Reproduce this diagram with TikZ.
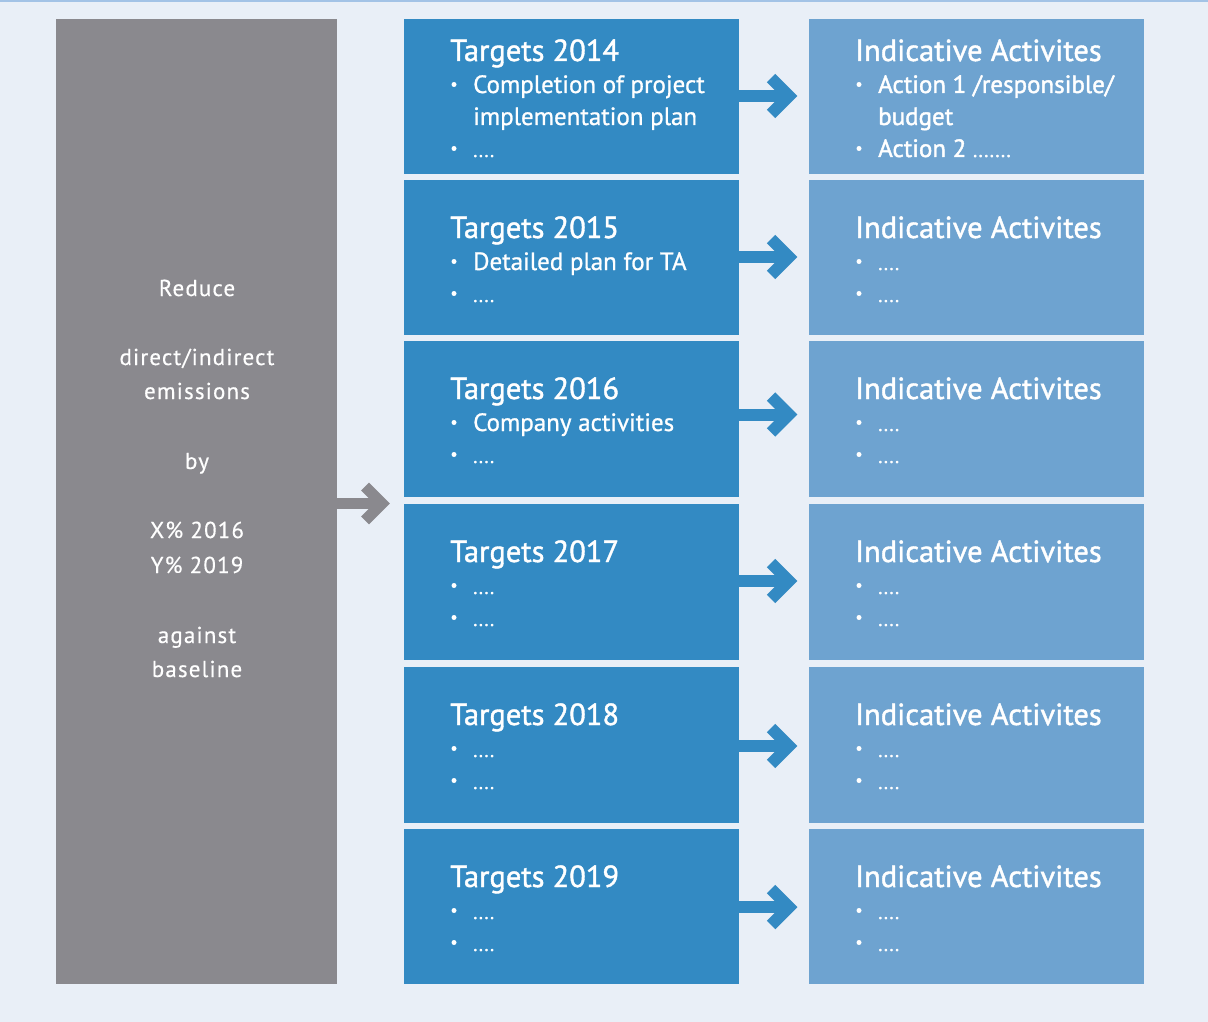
\documentclass[tikz,border=0pt]{standalone}
\usepackage{fontspec}
\setmainfont{PT Sans}
\newfontfamily\ttlfont{PT Sans}[RawFeature={embolden=1.3}]
\newfontfamily\itmfont{PT Sans}[RawFeature={embolden=0.9}]
\newfontfamily\actfont{PT Sans}[RawFeature={embolden=1.6}]
\newfontfamily\gryfont{PT Sans}[LetterSpace=5, RawFeature={embolden=0.4}]
\usetikzlibrary{calc}
\definecolor{bgc}{HTML}{E9EFF7}
\definecolor{grayc}{HTML}{8A898E}
\definecolor{bluec}{HTML}{338AC3}
\definecolor{lbluec}{HTML}{6EA3D0}
\definecolor{linec}{HTML}{A3C3E6}
\newcommand{\bl}[4]{% box, baseline offset, text, name
  \node[bdot] (#4d) at ($(#1.north west)+(50,#2-8.5)$) {};
  \node[itemtxt] (#4) at ($(#1.north west)+(69,#2)$) {#3};}
\newcommand{\nl}[4]{%
  \node[itemtxt] (#4) at ($(#1.north west)+(69,#2)$) {#3};}
\newcommand{\dts}{\fontsize{20}{20}\selectfont}
\begin{document}
\begin{tikzpicture}[x=1pt,y=-1pt,
  box/.style={anchor=north west, inner sep=0, outer sep=0, minimum width=335pt},
  tbox/.style={box, fill=bluec},
  abox/.style={box, fill=lbluec},
  titletxt/.style={anchor=base west, inner sep=0, text=white, font=\ttlfont\fontsize{30.5}{30}\selectfont},
  itemtxt/.style={anchor=base west, inner sep=0, text=white, font=\itmfont\fontsize{25}{25}\selectfont},
  graytxt/.style={anchor=base, inner sep=0, text=white, font=\gryfont\fontsize{23}{23}\selectfont},
  bdot/.style={circle, fill=white, draw=none, inner sep=0, minimum size=5pt},
  bshaft/.style={draw=bluec, line width=12pt, line cap=butt},
  bhead/.style={draw=bluec, line width=12pt, line cap=butt, line join=miter},
  gshaft/.style={draw=grayc, line width=11pt, line cap=butt},
  ghead/.style={draw=grayc, line width=11pt, line cap=butt, line join=miter},
]
\useasboundingbox (0,0) rectangle (1208,1022);
\fill[bgc] (0,0) rectangle (1208,1022);
\draw[linec, line width=2pt] (0,1.5) -- (1208,1.5);

% gray goal box
\node[box, fill=grayc, minimum width=281pt, minimum height=965pt] (g) at (56,19) {};
\node[graytxt] (g1) at (197,296) {Reduce};
\node[graytxt] (g2) at (197,365) {direct/indirect};
\node[graytxt] (g3) at (197,399) {emissions};
\node[graytxt] (g4) at (197,469) {by};
\node[graytxt] (g5) at (197,538) {X\% 2016};
\node[graytxt] (g6) at (197,573) {Y\% 2019};
\node[graytxt] (g7) at (197,643) {against};
\node[graytxt] (g8) at (197,677) {baseline};

% boxes
\foreach \n/\top/\h in {1/19/155, 2/180/155, 3/341/156, 4/504/156, 5/667/156, 6/829/155} {
  \node[tbox, minimum height=\h pt] (t\n) at (404,\top) {};
  \node[abox, minimum height=\h pt] (a\n) at (809,\top) {};
}

% titles
\foreach \n/\yr/\off in {1/2014/42, 2/2015/58, 3/2016/58, 4/2017/58, 5/2018/58, 6/2019/58} {
  \node[titletxt] (tt\n) at ($(t\n.north west)+(46,\off)$) {Targets \yr};
  \node[titletxt] (at\n) at ($(a\n.north west)+(46,\off)$) {Indicative Activites};
}

% items, targets
\bl{t1}{74}{Completion of project}{t1a}
\nl{t1}{106}{implementation plan}{t1b}
\bl{t1}{138}{\dts ....}{t1c}
\bl{t2}{90}{Detailed plan for TA}{t2a}
\bl{t2}{122}{\dts ....}{t2b}
\bl{t3}{90}{Company activities}{t3a}
\bl{t3}{122}{\dts ....}{t3b}
\foreach \n in {4,5,6} {
  \bl{t\n}{90}{\dts ....}{t\n a}
  \bl{t\n}{122}{\dts ....}{t\n b}
}
% items, activities
\bl{a1}{74}{\actfont Action 1 /responsible/}{a1a}
\nl{a1}{106}{\actfont budget}{a1b}
\bl{a1}{138}{\actfont Action 2 \dts .......}{a1c}
\foreach \n in {2,3,4,5,6} {
  \bl{a\n}{90}{\dts ....}{a\n a}
  \bl{a\n}{122}{\dts ....}{a\n b}
}

% arrows
\draw[gshaft] ($(g.east)+(0,2)$) -- ++(46,0);
\draw[ghead] ($(g.east)+(28,-15)$) -- ++(17,17) -- ++(-17,17);
\foreach \n/\dy in {1/-0.5, 2/-0.5, 3/-4.5, 4/-1, 5/1, 6/0.5} {
  \draw[bshaft] ($(t\n.east)+(0,\dy)$) -- ++(48,0);
  \draw[bhead] ($(t\n.east)+(32,\dy-18)$) -- ++(18,18) -- ++(-18,18);
}
\end{tikzpicture}
\end{document}
